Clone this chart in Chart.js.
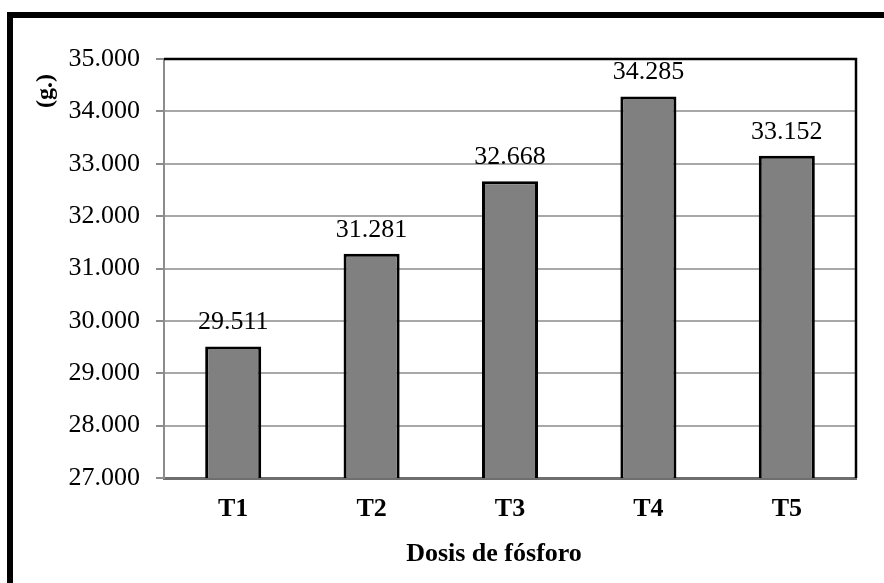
<!DOCTYPE html>
<html>
<head>
<meta charset="utf-8">
<script src="https://cdn.jsdelivr.net/npm/chart.js@4/dist/chart.umd.min.js"></script>
<style>
  html, body { margin: 0; padding: 0; background: #fff; overflow: hidden; }
  #wrap { position: relative; width: 884px; height: 583px; }
  #frame { position: absolute; left: 7px; top: 12px; width: 1000px; height: 700px;
           border: 6px solid #000; box-sizing: border-box; }
  #chart { position: absolute; left: 0; top: 0; }
</style>
</head>
<body>
<div id="wrap">
  <div id="frame"></div>
  <canvas id="chart" width="884" height="583"></canvas>
</div>
<script>
// Treatments (phosphorus doses) and mean weight in grams
const categories = ['T1', 'T2', 'T3', 'T4', 'T5'];
const weights = [29.511, 31.281, 32.668, 34.285, 33.152];
const yTicks = [27, 28, 29, 30, 31, 32, 33, 34, 35];
const xTitle = 'Dosis de fósforo';
const yTitle = '(g.)';

const SERIF = '"Liberation Serif", "Times New Roman", serif';
const fmt = v => v.toFixed(3);

// Value labels above each bar
const valueLabels = {
  id: 'valueLabels',
  afterDatasetsDraw(chart) {
    const ctx = chart.ctx;
    const meta = chart.getDatasetMeta(0);
    ctx.save();
    ctx.font = '26px ' + SERIF;
    ctx.fillStyle = '#000';
    ctx.textAlign = 'center';
    ctx.textBaseline = 'alphabetic';
    meta.data.forEach((bar, i) => {
      ctx.fillText(fmt(weights[i]), bar.x, bar.y - 17);
    });
    ctx.restore();
  }
};

// Plot frame (top/right edges) and the axis titles
const frameAndTitles = {
  id: 'frameAndTitles',
  afterDraw(chart) {
    const { ctx, chartArea: a } = chart;
    ctx.save();
    ctx.strokeStyle = '#000';
    ctx.lineWidth = 2.5;
    ctx.beginPath();
    ctx.moveTo(a.left, a.top);
    ctx.lineTo(a.right, a.top);
    ctx.lineTo(a.right, a.bottom);
    ctx.stroke();

    ctx.fillStyle = '#000';
    ctx.font = 'bold 26px ' + SERIF;
    ctx.textAlign = 'center';
    ctx.textBaseline = 'alphabetic';
    ctx.fillText(xTitle, (a.left + a.right) / 2 - 16, 561);

    ctx.translate(46, 91);
    ctx.rotate(-Math.PI / 2);
    ctx.font = 'bold 24px ' + SERIF;
    ctx.textBaseline = 'middle';
    ctx.fillText(yTitle, 0, 0);
    ctx.restore();
  }
};

new Chart(document.getElementById('chart'), {
  type: 'bar',
  data: {
    labels: categories,
    datasets: [{
      data: weights,
      backgroundColor: '#808080',
      borderColor: '#000',
      borderWidth: 3,
      barPercentage: 0.405,
      categoryPercentage: 1.0
    }]
  },
  options: {
    responsive: false,
    animation: false,
    layout: { padding: { top: 59, right: 28, left: 0, bottom: 0 } },
    plugins: { legend: { display: false }, tooltip: { enabled: false } },
    scales: {
      x: {
        afterFit(scale) { scale.height = 105; },
        grid: { display: false, drawTicks: false },
        border: { display: true, color: '#6e6e6e', width: 3 },
        ticks: {
          padding: 16,
          color: '#000',
          font: { family: SERIF, size: 26, weight: 'bold' }
        }
      },
      y: {
        min: yTicks[0],
        max: yTicks[yTicks.length - 1],
        afterFit(scale) { scale.width = 164; },
        afterBuildTicks(scale) { scale.ticks = yTicks.map(v => ({ value: v })); },
        grid: { color: '#a8a8a8', lineWidth: 2, tickColor: '#8c8c8c', tickLength: 8, drawOnChartArea: true },
        border: { display: true, color: '#8c8c8c', width: 2 },
        ticks: {
          padding: 16,
          color: '#000',
          font: { family: SERIF, size: 26 },
          callback: v => fmt(v)
        }
      }
    }
  },
  plugins: [valueLabels, frameAndTitles]
});
</script>
</body>
</html>
